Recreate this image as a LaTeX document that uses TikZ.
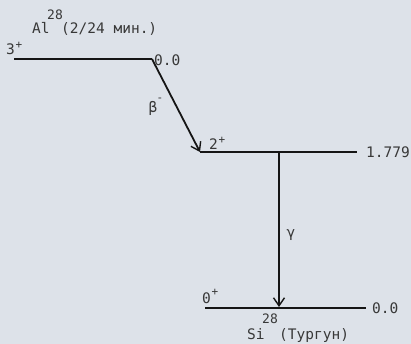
\documentclass[tikz,border=0pt]{standalone}
\usepackage{fontspec}
\setmonofont{DejaVu Sans Mono}
\usetikzlibrary{arrows.meta}
\definecolor{bg}{HTML}{DDE2E9}
\definecolor{ink}{HTML}{151515}
\definecolor{txt}{HTML}{383838}
\begin{document}
\begin{tikzpicture}[x=1pt,y=-1pt,
  lvl/.style={line width=2.3pt, draw=ink},
  trans/.style={line width=1.8pt, draw=ink, -{Straight Barb[length=8pt,width=11pt,line width=1.4pt]}},
  lbl/.style={font=\ttfamily\fontsize{14.5}{15}\selectfont, text=txt, inner sep=0pt},
  sml/.style={font=\ttfamily\fontsize{13}{13}\selectfont, text=txt, inner sep=0pt},
  sup/.style={font=\ttfamily\fontsize{11}{11}\selectfont, text=txt, inner sep=0pt}]
\fill[bg] (0,0) rectangle (411,344);
\useasboundingbox (0,0) rectangle (411,344);
% levels
\coordinate (a1) at (14,59); \coordinate (a2) at (152,59);
\coordinate (b1) at (200,152); \coordinate (b2) at (357,152);
\coordinate (c1) at (205,308); \coordinate (c2) at (366,308);
\coordinate (g1) at (279,152); \coordinate (g2) at (279,307);
\draw[lvl] (a1) -- (a2);
\draw[lvl] (b1) -- (b2);
\draw[lvl] (c1) -- (c2);
% transitions
\draw[trans] (a2) -- (b1);
\draw[trans] (g1) -- (g2);
% labels
\node[sml] (p28) at (55,15) {28};
\node[lbl, anchor=base west] (al) at (32,34) {Al};
\node[lbl, anchor=base west] (alt) at (61,34) {(2/24 мин.)};
\node[lbl, anchor=base west] (j3) at (6,55) {3};
\node[sup] (j3p) at (19,45) {+};
\node[lbl, anchor=west] (e0) at (154,60) {0.0};
\node[lbl] (beta) at (153,108) {β};
\node[sup] (betam) at (160,100) {-};
\node[lbl, anchor=base west] (j2) at (209,150) {2};
\node[sup] (j2p) at (222,140) {+};
\node[lbl, anchor=west] (e1) at (366,152) {1.779};
\node[lbl] (gam) at (291,235) {γ};
\node[lbl, anchor=base west] (j0) at (202,303) {0};
\node[sup] (j0p) at (215,292) {+};
\node[lbl, anchor=west] (e2) at (372,308) {0.0};
\node[sml] (s28) at (270,319) {28};
\node[lbl, anchor=base west] (si) at (247,339) {Si};
\node[lbl, anchor=base west] (tg) at (279,339) {(Тургун)};
\end{tikzpicture}
\end{document}
